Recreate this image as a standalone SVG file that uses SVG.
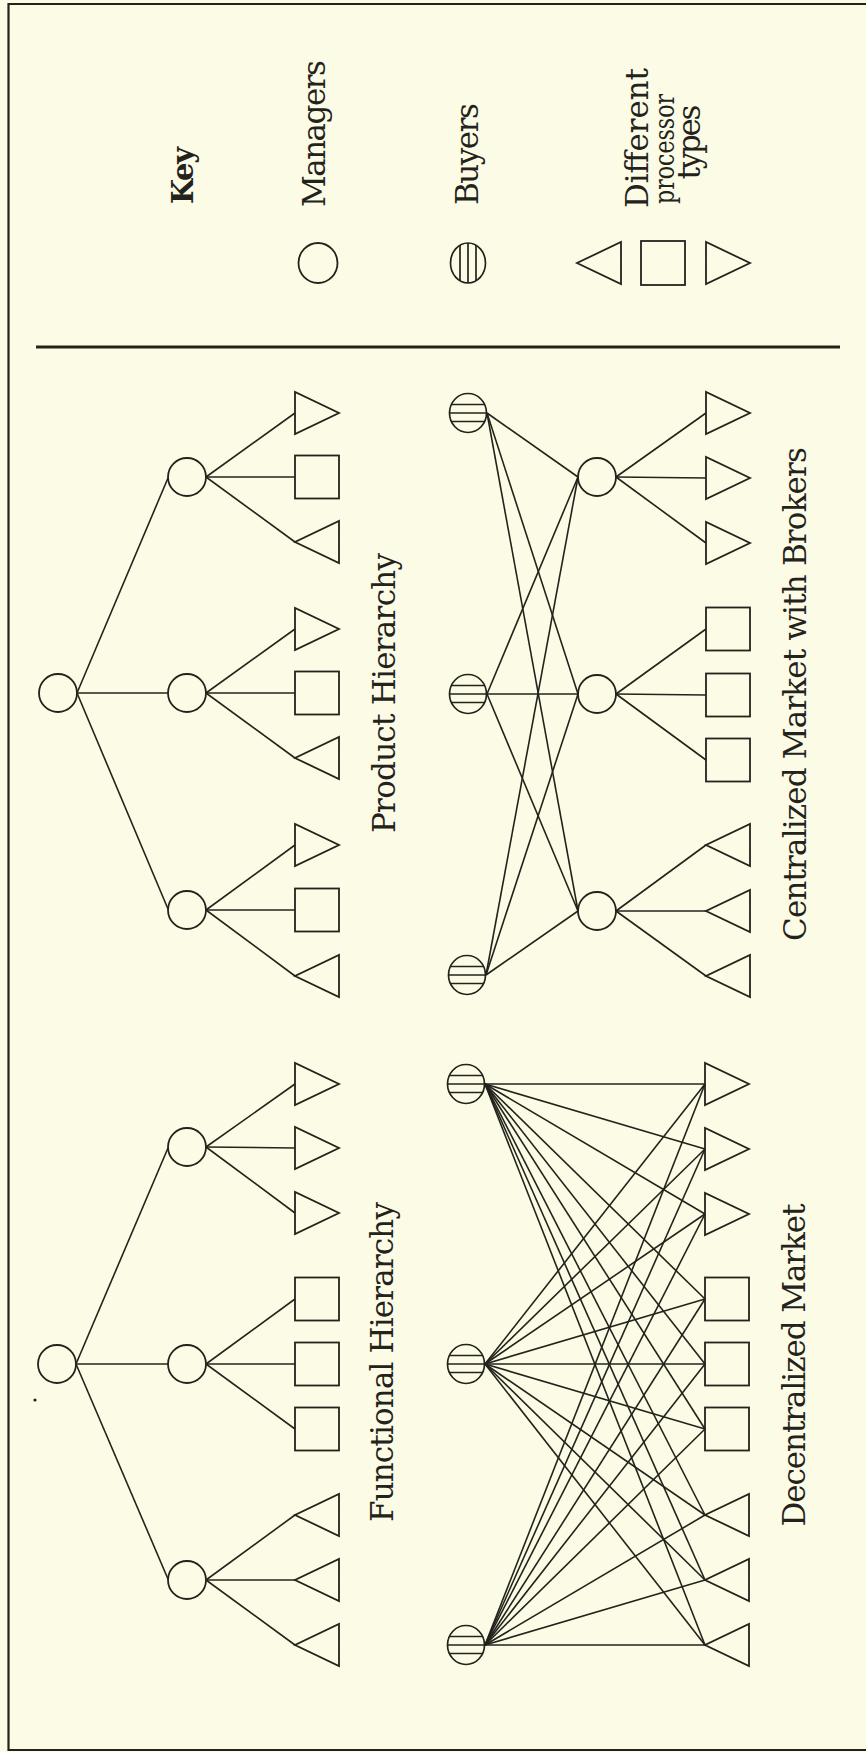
<svg xmlns="http://www.w3.org/2000/svg" width="866" height="1752" viewBox="0 0 866 1752">
<style>
.bg{fill:#fcfce6}
.frame{stroke:#23231c;stroke-width:2.2;fill:none}
.sep{stroke:#23231c;stroke-width:3;fill:none}
.n{fill:none;stroke:#23231c;stroke-width:1.8}
.b{fill:none;stroke:#23231c;stroke-width:1.7}
.c line{stroke:#23231c;stroke-width:1.6}
.t{font-family:"DejaVu Serif","Liberation Serif",serif;fill:#23231c;font-size:31px}
.k{font-family:"DejaVu Serif","Liberation Serif",serif;fill:#23231c;font-size:29px;font-weight:bold}
</style>
<defs>
<g id="rt"><polygon points="0,-21 0,21 44,0"/></g>
<g id="lt"><polygon points="44,-21 44,21 0,0"/></g>
<g id="sq"><rect x="0" y="-21.5" width="44" height="43"/></g>
<g id="buyer"><ellipse cx="0" cy="0" rx="18.5" ry="19.5"/><line x1="-17" y1="-8.5" x2="17" y2="-8.5"/><line x1="-18.5" y1="0" x2="18.5" y2="0"/><line x1="-17" y1="8.5" x2="17" y2="8.5"/></g>
<g id="buyerkey"><ellipse cx="0" cy="0" rx="17.5" ry="20"/><line x1="-8" y1="-18" x2="-8" y2="18"/><line x1="0" y1="-20" x2="0" y2="20"/><line x1="8" y1="-18" x2="8" y2="18"/></g>
</defs>
<rect class="bg" x="0" y="0" width="866" height="1752"/>
<g id="frame">
<polyline class="frame" points="866,4 8.5,4 8.5,1750 866,1750"/>
<line class="sep" x1="36" y1="347" x2="840" y2="347"/>
</g>

<g id="key">
<text class="k" transform="translate(193,204) rotate(-90)" textLength="57">Key</text>
<ellipse class="n" cx="318" cy="263" rx="19.5" ry="20"/>
<text class="t" transform="translate(325,207) rotate(-90)" textLength="147">Managers</text>
<use href="#buyerkey" class="b" x="468" y="263"/>
<text class="t" transform="translate(478,205) rotate(-90)" textLength="102">Buyers</text>
<use href="#lt" class="n" x="577" y="263"/>
<rect class="n" x="641" y="241" width="44" height="44"/>
<use href="#rt" class="n" x="706" y="263"/>
<text class="t" transform="translate(648,208) rotate(-90)" textLength="140">Different</text>
<text class="t" style="font-size:28px" transform="translate(674,204) rotate(-90)" textLength="110" lengthAdjust="spacingAndGlyphs">processor</text>
<text class="t" transform="translate(700,142) rotate(-90)" text-anchor="middle" textLength="75">types</text>
</g>

<g id="connectors" class="c">
<line x1="77" y1="693" x2="168" y2="478"/>
<line x1="77" y1="693" x2="168" y2="693"/>
<line x1="77" y1="693" x2="168" y2="909"/>
<line x1="206" y1="477" x2="295" y2="413"/>
<line x1="206" y1="477" x2="295" y2="477"/>
<line x1="206" y1="477" x2="295" y2="542"/>
<line x1="206" y1="693" x2="295" y2="629"/>
<line x1="206" y1="693" x2="295" y2="693"/>
<line x1="206" y1="693" x2="295" y2="758"/>
<line x1="206" y1="910" x2="295" y2="845"/>
<line x1="206" y1="910" x2="295" y2="910"/>
<line x1="206" y1="910" x2="295" y2="976"/>
<line x1="76" y1="1364" x2="168" y2="1148"/>
<line x1="76" y1="1364" x2="168" y2="1364"/>
<line x1="76" y1="1364" x2="168" y2="1579"/>
<line x1="206" y1="1147" x2="295" y2="1084"/>
<line x1="206" y1="1147" x2="295" y2="1148"/>
<line x1="206" y1="1147" x2="295" y2="1213"/>
<line x1="206" y1="1364" x2="295" y2="1299"/>
<line x1="206" y1="1364" x2="295" y2="1364"/>
<line x1="206" y1="1364" x2="295" y2="1429"/>
<line x1="206" y1="1580" x2="295" y2="1515"/>
<line x1="206" y1="1580" x2="295" y2="1580"/>
<line x1="206" y1="1580" x2="295" y2="1645"/>
<line x1="487" y1="413" x2="578" y2="477"/>
<line x1="487" y1="413" x2="578" y2="694"/>
<line x1="487" y1="413" x2="578" y2="911"/>
<line x1="487" y1="694" x2="578" y2="477"/>
<line x1="487" y1="694" x2="578" y2="694"/>
<line x1="487" y1="694" x2="578" y2="911"/>
<line x1="486" y1="975" x2="578" y2="477"/>
<line x1="486" y1="975" x2="578" y2="694"/>
<line x1="486" y1="975" x2="578" y2="911"/>
<line x1="616" y1="477" x2="706" y2="413"/>
<line x1="616" y1="477" x2="706" y2="478"/>
<line x1="616" y1="477" x2="706" y2="543"/>
<line x1="616" y1="694" x2="706" y2="629"/>
<line x1="616" y1="694" x2="706" y2="695"/>
<line x1="616" y1="694" x2="706" y2="760"/>
<line x1="616" y1="911" x2="706" y2="845"/>
<line x1="616" y1="911" x2="706" y2="911"/>
<line x1="616" y1="911" x2="706" y2="976"/>
<line x1="485" y1="1084" x2="705" y2="1084"/>
<line x1="485" y1="1084" x2="705" y2="1149"/>
<line x1="485" y1="1084" x2="705" y2="1214"/>
<line x1="485" y1="1084" x2="705" y2="1299"/>
<line x1="485" y1="1084" x2="705" y2="1364"/>
<line x1="485" y1="1084" x2="705" y2="1429"/>
<line x1="485" y1="1084" x2="705" y2="1515"/>
<line x1="485" y1="1084" x2="705" y2="1580"/>
<line x1="485" y1="1084" x2="705" y2="1645"/>
<line x1="485" y1="1364" x2="705" y2="1084"/>
<line x1="485" y1="1364" x2="705" y2="1149"/>
<line x1="485" y1="1364" x2="705" y2="1214"/>
<line x1="485" y1="1364" x2="705" y2="1299"/>
<line x1="485" y1="1364" x2="705" y2="1364"/>
<line x1="485" y1="1364" x2="705" y2="1429"/>
<line x1="485" y1="1364" x2="705" y2="1515"/>
<line x1="485" y1="1364" x2="705" y2="1580"/>
<line x1="485" y1="1364" x2="705" y2="1645"/>
<line x1="485" y1="1645" x2="705" y2="1084"/>
<line x1="485" y1="1645" x2="705" y2="1149"/>
<line x1="485" y1="1645" x2="705" y2="1214"/>
<line x1="485" y1="1645" x2="705" y2="1299"/>
<line x1="485" y1="1645" x2="705" y2="1364"/>
<line x1="485" y1="1645" x2="705" y2="1429"/>
<line x1="485" y1="1645" x2="705" y2="1515"/>
<line x1="485" y1="1645" x2="705" y2="1580"/>
<line x1="485" y1="1645" x2="705" y2="1645"/>
</g>

<g id="product-hierarchy">
<circle id="ph-top" class="n" cx="58" cy="693" r="19"/>
<circle id="ph-m1" class="n" cx="187" cy="477" r="19"/>
<circle id="ph-m2" class="n" cx="187" cy="693" r="19"/>
<circle id="ph-m3" class="n" cx="187" cy="910" r="19"/>
<use href="#rt" class="n" x="295" y="413"/>
<use href="#sq" class="n" x="295" y="477"/>
<use href="#lt" class="n" x="295" y="542"/>
<use href="#rt" class="n" x="295" y="629"/>
<use href="#sq" class="n" x="295" y="693"/>
<use href="#lt" class="n" x="295" y="758"/>
<use href="#rt" class="n" x="295" y="845"/>
<use href="#sq" class="n" x="295" y="910"/>
<use href="#lt" class="n" x="295" y="976"/>
<text class="t" transform="translate(395,693) rotate(-90)" text-anchor="middle" textLength="280">Product  Hierarchy</text>
</g>

<g id="functional-hierarchy">
<circle id="fh-top" class="n" cx="57" cy="1364" r="19"/>
<circle id="fh-m1" class="n" cx="187" cy="1147" r="19"/>
<circle id="fh-m2" class="n" cx="187" cy="1364" r="19"/>
<circle id="fh-m3" class="n" cx="187" cy="1580" r="19"/>
<use href="#rt" class="n" x="295" y="1084"/>
<use href="#rt" class="n" x="295" y="1148"/>
<use href="#rt" class="n" x="295" y="1213"/>
<use href="#sq" class="n" x="295" y="1299"/>
<use href="#sq" class="n" x="295" y="1364"/>
<use href="#sq" class="n" x="295" y="1429"/>
<use href="#lt" class="n" x="295" y="1515"/>
<use href="#lt" class="n" x="295" y="1580"/>
<use href="#lt" class="n" x="295" y="1645"/>
<circle cx="35" cy="1400" r="1.6" fill="#23231c"/>
<text class="t" transform="translate(393,1362) rotate(-90)" text-anchor="middle" textLength="320">Functional Hierarchy</text>
</g>

<g id="centralized-market">
<use href="#buyer" class="b" x="468" y="413"/>
<use href="#buyer" class="b" x="468" y="694"/>
<use href="#buyer" class="b" x="467" y="975"/>
<circle id="cm-k1" class="n" cx="597" cy="477" r="19"/>
<circle id="cm-k2" class="n" cx="597" cy="694" r="19"/>
<circle id="cm-k3" class="n" cx="597" cy="911" r="19"/>
<use href="#rt" class="n" x="706" y="413"/>
<use href="#rt" class="n" x="706" y="478"/>
<use href="#rt" class="n" x="706" y="543"/>
<use href="#sq" class="n" x="706" y="629"/>
<use href="#sq" class="n" x="706" y="695"/>
<use href="#sq" class="n" x="706" y="760"/>
<use href="#lt" class="n" x="706" y="845"/>
<use href="#lt" class="n" x="706" y="911"/>
<use href="#lt" class="n" x="706" y="976"/>
<text class="t" transform="translate(806,694) rotate(-90)" text-anchor="middle" textLength="494">Centralized Market with Brokers</text>
</g>

<g id="decentralized-market">
<use href="#buyer" class="b" x="466" y="1084"/>
<use href="#buyer" class="b" x="466" y="1364"/>
<use href="#buyer" class="b" x="466" y="1645"/>
<use href="#rt" class="n" x="705" y="1084"/>
<use href="#rt" class="n" x="705" y="1149"/>
<use href="#rt" class="n" x="705" y="1214"/>
<use href="#sq" class="n" x="705" y="1299"/>
<use href="#sq" class="n" x="705" y="1364"/>
<use href="#sq" class="n" x="705" y="1429"/>
<use href="#lt" class="n" x="705" y="1515"/>
<use href="#lt" class="n" x="705" y="1580"/>
<use href="#lt" class="n" x="705" y="1645"/>
<text class="t" transform="translate(805,1365) rotate(-90)" text-anchor="middle" textLength="323">Decentralized Market</text>
</g>
</svg>
